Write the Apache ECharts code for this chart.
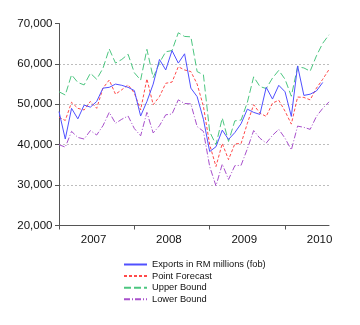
<!DOCTYPE html>
<html>
<head>
<meta charset="utf-8">
<script src="https://cdn.jsdelivr.net/npm/echarts@6/dist/echarts.min.js"></script>
<style>
  html, body { margin: 0; padding: 0; background: #fff; }
  #chart { width: 360px; height: 325px; }
</style>
</head>
<body>
<div id="chart"></div>
<script>
// Monthly observations, Jan 2007 .. Aug 2010 (index 0 = Jan 2007)
const yearLabels = ['2007', '2008', '2009', '2010'];
const yTicks = [20000, 30000, 40000, 50000, 60000, 70000];

const exportsRM = [
  48200, 41400, 49000, 46400, 49800, 49300, 50700, 54000, 54200, 55000, 54700, 54200,
  53400, 47100, 50700, 55000, 61100, 58500, 63300, 60200, 62500, 54000, 51900, 46300,
  38300, 39500, 43600, 41300, 43000, 45200, 48800, 48000, 47500, 54200, 51300, 54700,
  53100, 47000, 59500, 52200, 52500, 53300, 55400, null
];
const pointForecast = [
  46800, 46000, 50500, 49000, 48600, 50700, 49000, 54000, 56000, 52500, 53600, 54800,
  52800, 48600, 56300, 49900, 51900, 55200, 55500, 59300, 58500, 58100, 55000, 49500,
  40000, 34600, 40300, 36300, 40200, 40300, 45300, 49900, 47800, 47000, 50300, 51000,
  48300, 45100, 51800, 51700, 51100, 54000, 56200, 58600
];
const upperBound = [
  53100, 52300, 57300, 55400, 54800, 57700, 56200, 58900, 63700, 60200, 61100, 62400,
  57800, 56000, 63600, 56600, 60300, 63000, 63300, 67700, 66800, 66700, 58100, 57300,
  43200, 40000, 46600, 40800, 45900, 46100, 50500, 56800, 54400, 53900, 56500, 58400,
  56200, 52000, 59300, 59000, 58200, 62000, 65100, 67200
];
const lowerBound = [
  40000, 39400, 43300, 41800, 41400, 43500, 42400, 44700, 48000, 45300, 46300, 47100,
  44000, 42200, 48000, 42900, 44700, 47400, 47600, 51100, 50200, 50100, 44500, 43300,
  34600, 29800, 35200, 31400, 34800, 34900, 39000, 43500, 41600, 40400, 42300, 43800,
  41600, 38700, 44600, 44300, 43800, 47000, 49000, 50600
];

const seriesNames = ['Exports in RM millions (fob)', 'Point Forecast', 'Upper Bound', 'Lower Bound'];

function toPairs(arr) {
  return arr.map((v, i) => [i, v]);
}

const lastIndex = pointForecast.length - 1;
const yearStarts = yearLabels.map((_, k) => k * 12);
const yearMids = yearLabels.map((_, k) => k * 12 + 5.5);

const chart = echarts.init(document.getElementById('chart'), null, { renderer: 'canvas' });

const font = '"Liberation Sans", Arial, sans-serif';
const legendText = { fontFamily: font, fontSize: 9.3, color: '#111' };

chart.setOption({
  animation: false,
  backgroundColor: '#ffffff',
  grid: { left: 59, right: 31, top: 23.5, bottom: 99.5 },
  xAxis: {
    type: 'value',
    min: 0,
    max: lastIndex,
    axisLine: { show: true, lineStyle: { color: '#555', width: 1 } },
    axisTick: { show: true, customValues: yearStarts, length: 4, lineStyle: { color: '#555' } },
    axisLabel: {
      customValues: yearMids,
      formatter: v => yearLabels[Math.round((v - 5.5) / 12)],
      fontFamily: font,
      fontSize: 11.5,
      color: '#111',
      margin: 8
    },
    splitLine: { show: false }
  },
  yAxis: {
    type: 'value',
    min: yTicks[0],
    max: yTicks[yTicks.length - 1],
    interval: 10000,
    axisLine: { show: true, lineStyle: { color: '#555', width: 1 } },
    axisTick: { show: true, length: 4, lineStyle: { color: '#555' } },
    axisLabel: {
      formatter: v => v.toLocaleString('en-US'),
      fontFamily: font,
      fontSize: 11.5,
      color: '#111',
      margin: 6.5
    },
    splitLine: {
      show: true,
      showMinLine: false,
      showMaxLine: false,
      lineStyle: { color: '#bdbdbd', type: [2, 2], width: 1 }
    }
  },
  legend: {
    orient: 'vertical',
    left: 123,
    top: 260,
    padding: 0,
    itemWidth: 23,
    itemHeight: 8,
    itemGap: 2.6,
    // line sample only, no marker in the middle
    itemStyle: { opacity: 0 },
    textStyle: legendText,
    data: seriesNames.map(n => ({ name: n, textStyle: legendText }))
  },
  series: [
    {
      name: seriesNames[0], type: 'line', symbol: 'none', showSymbol: false,
      data: toPairs(exportsRM),
      lineStyle: { color: '#5050ff', width: 1 },
      itemStyle: { color: '#5050ff' },
      z: 5
    },
    {
      name: seriesNames[1], type: 'line', symbol: 'none', showSymbol: false,
      data: toPairs(pointForecast),
      lineStyle: { color: '#ff4a4a', width: 1, type: [3, 2] },
      itemStyle: { color: '#ff4a4a' },
      z: 4
    },
    {
      name: seriesNames[2], type: 'line', symbol: 'none', showSymbol: false,
      data: toPairs(upperBound),
      lineStyle: { color: '#4cc680', width: 1, type: [7, 3] },
      itemStyle: { color: '#4cc680' },
      z: 3
    },
    {
      name: seriesNames[3], type: 'line', symbol: 'none', showSymbol: false,
      data: toPairs(lowerBound),
      lineStyle: { color: '#a850cc', width: 1, type: [6, 2, 1, 2] },
      itemStyle: { color: '#a850cc' },
      z: 2
    }
  ]
});
</script>
</body>
</html>
